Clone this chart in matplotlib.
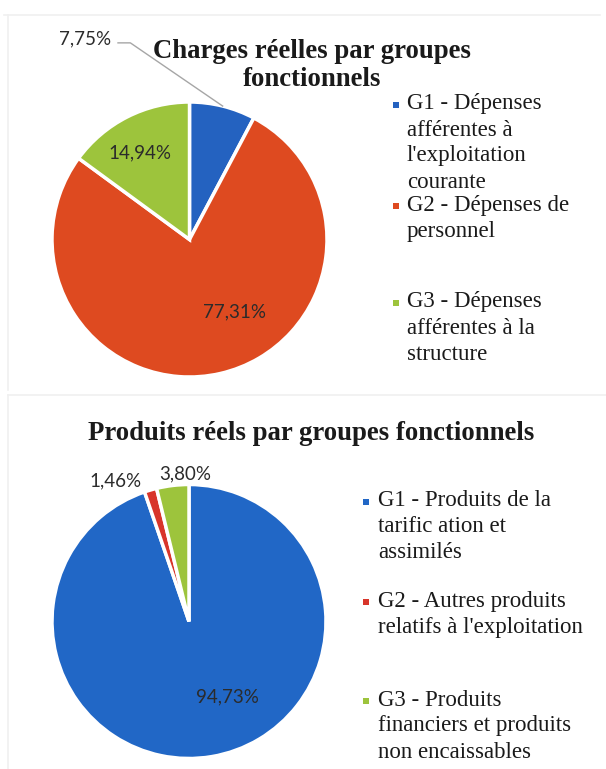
import numpy as np
import matplotlib.pyplot as plt

# Charges réelles
charges_labels = ["G1 - Dépenses\nafférentes à\nl'exploitation\ncourante",
                  "G2 - Dépenses de\npersonnel",
                  "G3 - Dépenses\nafférentes à la\nstructure"]
charges_values = [7.75, 77.31, 14.94]

# Produits réels
produits_labels = ["G1 - Produits de la\ntarific ation et\nassimilés",
                   "G2 - Autres produits\nrelatifs à l'exploitation",
                   "G3 - Produits\nfinanciers et produits\nnon encaissables"]
produits_values = [94.73, 1.46, 3.80]

colors_top = ["#2462c0", "#de4a20", "#9dc43c"]
colors_bottom = ["#2167c6", "#d8352a", "#9dc43c"]

W, H = 606, 769
DPI = 100

serif = ["Liberation Serif", "DejaVu Serif"]
sans = ["Lato", "DejaVu Sans"]


def fmt(v):
    return f"{v:.2f}%".replace(".", ",")


def pie_axes(fig, cx, cy, r):
    # pixel centre / radius -> figure fraction box
    ax = fig.add_axes([(cx - r) / W, (H - cy - r) / H, 2 * r / W, 2 * r / H])
    ax.axis("off")
    return ax


def fix_limits(ax):
    # pie() widens the limits to +-1.25, pull them back to the unit circle
    ax.set_xlim(-1, 1)
    ax.set_ylim(-1, 1)
    ax.set_aspect("equal")


def mid_angle(values, i):
    total = sum(values)
    start = 90 - 360 * sum(values[:i]) / total
    return np.radians(start - 180 * values[i] / total)


fig = plt.figure(figsize=(W / DPI, H / DPI), dpi=DPI)
fig.patch.set_facecolor("white")

# overlay in pixel coordinates for titles, legends and frames
over = fig.add_axes([0, 0, 1, 1])
over.set_xlim(0, W)
over.set_ylim(H, 0)
over.axis("off")

for seg in [((4, 600), (15, 15)), ((8, 8), (15, 390)),
            ((8, 606), (395, 395)), ((8, 8), (395, 769))]:
    over.plot(*seg, color="#f0f0f0", lw=1.2, zorder=0)

# --- top chart ---
ax1 = pie_axes(fig, 189.5, 239.5, 137.5)
ax1.pie(charges_values, colors=colors_top, startangle=90, counterclock=False,
        radius=1, wedgeprops=dict(edgecolor="white", linewidth=2.5))
fix_limits(ax1)

inside_top = {1: (0.33, -0.53), 2: (-0.36, 0.63)}
for i, pos in inside_top.items():
    ax1.text(*pos, fmt(charges_values[i]), ha="center", va="center",
             fontsize=13.5, family=sans, color="#2b2b2b", zorder=5)

# outside label with leader line
a = mid_angle(charges_values, 0)
ax1.plot([-0.52, -0.43, np.cos(a)], [1.43, 1.43, np.sin(a)],
         color="#a6a6a6", lw=1, clip_on=False)
ax1.text(-0.76, 1.46, fmt(charges_values[0]), ha="center", va="center",
         fontsize=13.5, family=sans, color="#2b2b2b", clip_on=False)

over.text(312, 52, "Charges réelles par groupes", ha="center", va="center",
          fontsize=19.3, fontweight="bold", family=serif, color="#1a1a1a")
over.text(312, 79, "fonctionnels", ha="center", va="center",
          fontsize=19.3, fontweight="bold", family=serif, color="#1a1a1a")

# --- bottom chart ---
ax2 = pie_axes(fig, 189, 621.5, 137)
ax2.pie(produits_values, colors=colors_bottom, startangle=90, counterclock=False,
        radius=1, wedgeprops=dict(edgecolor="white", linewidth=2.5))
fix_limits(ax2)

label_pos_bottom = [(0.28, -0.55), (-0.54, 1.03), (-0.03, 1.08)]
for v, pos in zip(produits_values, label_pos_bottom):
    ax2.text(*pos, fmt(v), ha="center", va="center", fontsize=13.5,
             family=sans, color="#2b2b2b", clip_on=False, zorder=5)

over.text(311, 433, "Produits réels par groupes fonctionnels", ha="center",
          va="center", fontsize=19.3, fontweight="bold", family=serif,
          color="#1a1a1a")


def legend(x_mark, x_text, y_entries, labels, colors):
    for y0, lab, col in zip(y_entries, labels, colors):
        over.scatter([x_mark], [y0 + 1], marker="s", s=22, color=col,
                     edgecolors="none")
        for k, line in enumerate(lab.split("\n")):
            over.text(x_text, y0 + 26 * k, line, ha="left", va="center",
                      fontsize=16.5, family=serif, color="#1a1a1a")


legend(396, 407, [104, 205, 302], charges_labels, colors_top)
legend(366, 378, [501, 601, 700], produits_labels, colors_bottom)

fig.savefig("out.png", dpi=DPI)
